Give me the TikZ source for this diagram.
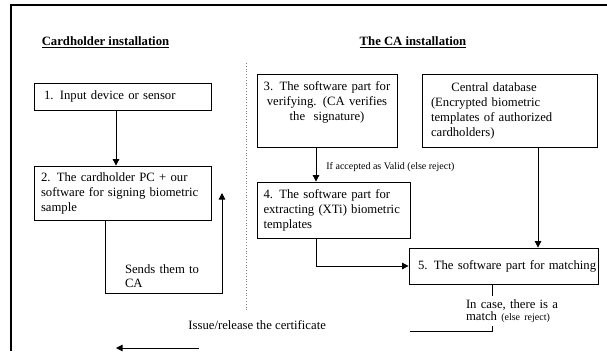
\documentclass[tikz,border=0pt]{standalone}
\usepackage{fontspec}
\setmainfont{Liberation Serif}
\usetikzlibrary{arrows.meta,positioning}

\begin{document}
\begin{tikzpicture}[x=1pt,y=-1pt,>={Triangle[length=6.5pt,width=6.5pt]},line width=0.8pt,
  box/.style={draw,align=left,inner xsep=10pt,inner ysep=3pt,font=\fontsize{12.7}{15}\selectfont},
  title/.style={font=\fontsize{12.7}{15}\selectfont\bfseries},
  lbl/.style={align=left,font=\fontsize{12.7}{14}\selectfont},
  small/.style={font=\fontsize{10}{11}\selectfont}]
\useasboundingbox (0,0) rectangle (607,351);
\draw[line width=1.6pt] (11,351) -- (11,5) -- (607,5);
\node[title] (hdrcard) at (105.5,42) {\underline{Cardholder installation}};
\node[title] (hdrca) at (413,42) {\underline{The CA installation}};
\draw[gray,dotted] (246,63) -- (246,312);
% cardholder side
\node[box,text width=157pt,minimum height=27pt] (input) at (122.5,96.5) {1. Input device or sensor};
\node[box,inner xsep=7pt,text width=163pt,minimum height=54pt] (signpc) at (122.5,193) {2. The cardholder PC + our\\software for signing biometric\\sample};
% CA side
\node[box,align=center,inner xsep=6pt,text width=128pt,minimum height=73pt] (verify) at (327,110.5) {3. The software part for\\verifying. (CA verifies\\the\ \ signature)\\\strut};
\node[box,inner xsep=9pt,text width=157pt,minimum height=73pt] (db) at (509.5,110.5) {\hspace*{1.6em}Central database\\(Encrypted biometric\\templates of authorized\\cardholders)};
\node[box,inner xsep=6.5pt,text width=140pt,minimum height=56pt] (extract) at (333.5,210) {4. The software part for\\extracting (XTi) biometric\\templates};
\node[box,inner xsep=9pt,text width=171pt,minimum height=36pt] (match) at (503.5,266) {\mbox{5. The software part for matching}};
\coordinate (sendcorner) at (222,293);
\coordinate (sendtip) at (222,193);
\coordinate (matchcorner) at (492,331);
\coordinate (matchend) at (410,331);
\coordinate (issuefrom) at (199,348);
\coordinate (issueto) at (116,348);
\draw[->] ([xshift=-6.5]input.south) -- ([xshift=-6.5]input.south |- signpc.north);
\draw[->] ([xshift=-17.5]signpc.south) |- (sendcorner) -- (sendtip);
\node[lbl,fill=white,inner xsep=10pt,inner ysep=6pt,text width=75pt] (sends) at (162.5,276) {Sends them to\\CA};
\draw[->] ([xshift=-11]verify.south) -- ([xshift=-11]verify.south |- extract.north);
\node[small,anchor=west,inner sep=0pt] (valid) at (326,167) {If accepted as Valid (else reject)};
\draw[->] ([xshift=-17.5]extract.south) |- (match.west);
\draw[->] ([xshift=28.5]db.south) -- ([xshift=28.5]db.south |- match.north);
\draw ([xshift=-11.5]match.south) -- (matchcorner) -- (matchend);
\node[lbl,fill=white,inner xsep=3pt,inner ysep=3pt,text width=94pt,font=\fontsize{12.7}{12.5}\selectfont] (matchok) at (513,311) {In case, there is a\\match {\fontsize{10}{10}\selectfont(else reject)}};
\node[lbl,anchor=west,inner sep=0pt] (issue) at (188,325) {Issue/release the certificate};
\draw[->] (issuefrom) -- (issueto);
\end{tikzpicture}
\end{document}
